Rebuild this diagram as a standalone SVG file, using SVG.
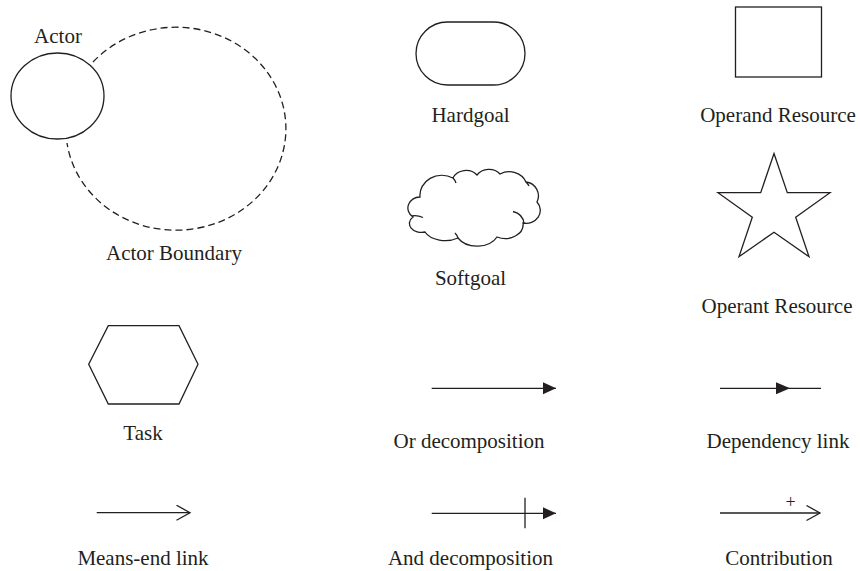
<svg xmlns="http://www.w3.org/2000/svg" width="860" height="571" viewBox="0 0 860 571">
  <style>
    .shape { fill: #ffffff; stroke: #231f20; stroke-width: 1.3; }
    .line { fill: none; stroke: #231f20; stroke-width: 1.3; }
    .label { font-family: "Liberation Serif", "Times New Roman", serif; font-size: 21px; fill: #231f20; text-anchor: middle; }
  </style>
  <defs>
    <marker id="solidHead" markerUnits="userSpaceOnUse" markerWidth="14" markerHeight="14" refX="13" refY="6.5" orient="auto">
      <path d="M0,0.5 L13,6.5 L0,12.5 Z" fill="#231f20"/>
    </marker>
    <marker id="midHead" markerUnits="userSpaceOnUse" markerWidth="16" markerHeight="14" refX="14" refY="6.5" orient="auto">
      <path d="M0,0.5 L14,6.5 L0,12.5 Z" fill="#231f20"/>
    </marker>
    <marker id="openHead" markerUnits="userSpaceOnUse" markerWidth="16" markerHeight="18" refX="14" refY="8" orient="auto">
      <path d="M0.5,0.5 L14,8 L0.5,15.5" fill="none" stroke="#231f20" stroke-width="1.3"/>
    </marker>
  </defs>

  <!-- Actor with its dashed boundary -->
  <g id="actor">
    <path class="line" d="M93,62 A110,101.5 0 1 1 67,143" stroke-dasharray="7 4"/>
    <ellipse class="shape" cx="57.5" cy="96" rx="46.5" ry="43"/>
    <text class="label" x="58" y="43">Actor</text>
    <text class="label" x="174" y="260">Actor Boundary</text>
  </g>

  <!-- Hardgoal -->
  <g id="hardgoal">
    <rect class="shape" x="416" y="22" width="109" height="63" rx="31.5" ry="31.5"/>
    <text class="label" x="470.5" y="122">Hardgoal</text>
  </g>

  <!-- Softgoal cloud -->
  <g id="softgoal">
    <path class="shape" d="M413,217 A12,11 0 0 1 420,197 A22,20 0 0 1 453,178 A14,12 0 0 1 477,175 A14,12 0 0 1 500,174 A18,16 0 0 1 526,182 A14,14 0 0 1 537,202 A14,13 0 0 1 523,223 A18,14 0 0 1 497,237 A22,16 0 0 1 458,238 A22,14 0 0 1 425,232 A12,9 0 0 1 413,217 Z"/>
    <path class="line" d="M412,216 Q417,215 423,217.5"/>
    <path class="line" d="M513,211.5 Q523,214 524,223.5"/>
    <path class="line" d="M453,178 Q455,180 456,183"/>
    <path class="line" d="M526,182 Q528,184 529,186"/>
    <path class="line" d="M458,238 Q457,235 455,233"/>
    <text class="label" x="470.5" y="285">Softgoal</text>
  </g>

  <!-- Operand resource -->
  <g id="operand-resource">
    <rect class="shape" x="735.5" y="7" width="86" height="70"/>
    <text class="label" x="778" y="122">Operand Resource</text>
  </g>

  <!-- Operant resource star -->
  <g id="operant-resource">
    <polygon class="shape" points="774,153.5 787.3,192.7 830,192.7 795.7,217.3 809,256.7 774,232.3 739,256.7 752.3,217.3 718,192.7 760.7,192.7"/>
    <text class="label" x="777" y="313">Operant Resource</text>
  </g>

  <!-- Task -->
  <g id="task">
    <polygon class="shape" points="108.3,325.7 179,325.7 198,364.3 179,404 108.3,404 88.7,364.3"/>
    <text class="label" x="143" y="440">Task</text>
  </g>

  <!-- Link samples -->
  <g id="connectors">
    <!-- Or decomposition -->
    <line class="line" x1="431.7" y1="388.3" x2="556" y2="388.3" marker-end="url(#solidHead)"/>
    <!-- Dependency link: arrowhead at the middle -->
    <path class="line" d="M720,388.3 L790,388.3 L821,388.3" marker-mid="url(#midHead)"/>
    <!-- Means-end link -->
    <line class="line" x1="96.7" y1="512.7" x2="190" y2="512.7" marker-end="url(#openHead)"/>
    <!-- And decomposition -->
    <line class="line" x1="431.7" y1="513.3" x2="556" y2="513.3" marker-end="url(#solidHead)"/>
    <line class="line" x1="525" y1="497.7" x2="525" y2="528.3"/>
    <!-- Contribution -->
    <line class="line" x1="720" y1="513" x2="820" y2="513" marker-end="url(#openHead)"/>
  </g>

  <g id="link-labels">
    <text class="label" x="469" y="448">Or decomposition</text>
    <text class="label" x="778" y="448">Dependency link</text>
    <text class="label" x="143" y="565">Means-end link</text>
    <text class="label" x="470.5" y="565">And decomposition</text>
    <text class="label" x="779" y="565">Contribution</text>
    <text class="label" x="790.7" y="508" style="font-size:18px">+</text>
  </g>
</svg>
